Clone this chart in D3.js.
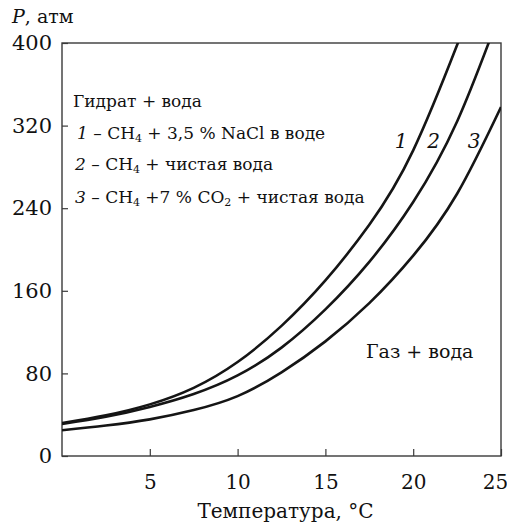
<!DOCTYPE html>
<html>
<head>
<meta charset="utf-8">
<script src="https://cdn.jsdelivr.net/npm/d3@7"></script>
<style>
  body { margin: 0; background: #fff; }
</style>
</head>
<body>
<div id="chart"></div>
<script>
// curves: temperature (°C) and pressure (atm)
const curve1T = [0, 2.5, 5, 7.5, 10, 12.5, 15, 17.5, 20, 22.5, 23];
const curve1P = [32, 39.5, 50, 66, 91, 126, 170, 224, 296, 398, 420];
const curve2T = [0, 2.5, 5, 7.5, 10, 12.5, 15, 17.5, 20, 22.5, 25];
const curve2P = [31, 38, 47.5, 60, 78, 105, 142, 188, 246, 324, 432];
const curve3T = [0, 2.5, 5, 7.5, 10, 12.5, 15, 17.5, 20, 22.5, 25];
const curve3P = [25, 29.5, 35.5, 44.5, 58, 81, 111, 148, 194, 254, 338];
const curveNames = ["1", "2", "3"];
const xTicks = [5, 10, 15, 20, 25];
const yTicks = [0, 80, 160, 240, 320, 400];

const margin = {top: 43, right: 6, bottom: 66, left: 62};
const W = 507, H = 522;
const width = W - margin.left - margin.right;
const height = H - margin.top - margin.bottom;
const serif = "'DejaVu Serif', 'Noto Serif', 'Liberation Serif', 'Times New Roman', serif";

const svg = d3.select("#chart").append("svg")
    .attr("width", W)
    .attr("height", H)
    .style("font-family", serif);

const g = svg.append("g")
    .attr("transform", "translate(" + margin.left + "," + margin.top + ")");

const x = d3.scaleLinear().domain([0, 25]).range([0, width]);
const y = d3.scaleLinear().domain([0, 400]).range([height, 0]);

svg.append("defs").append("clipPath").attr("id", "plot")
  .append("rect").attr("width", width).attr("height", height);

// frame
g.append("rect")
    .attr("width", width)
    .attr("height", height)
    .attr("fill", "none")
    .attr("stroke", "#3a3a3a")
    .attr("stroke-width", 1.4);

// y axis
const yAxis = g.append("g")
    .call(d3.axisLeft(y).tickValues(yTicks).tickSizeInner(-6).tickSizeOuter(0).tickPadding(10))
    .attr("font-family", null);
yAxis.select(".domain").remove();
yAxis.selectAll("line").attr("stroke", "#3a3a3a").attr("stroke-width", 1.2);
yAxis.selectAll("text")
    .style("font-family", serif)
    .attr("font-size", 21)
    .attr("fill", "#111");

// x axis
const xAxis = g.append("g")
    .attr("transform", "translate(0," + height + ")")
    .call(d3.axisBottom(x).tickValues(xTicks).tickSizeInner(-7).tickSizeOuter(0).tickPadding(19))
    .attr("font-family", null);
xAxis.select(".domain").remove();
xAxis.selectAll("line").attr("stroke", "#3a3a3a").attr("stroke-width", 1.2);
xAxis.selectAll("text")
    .style("font-family", serif)
    .attr("font-size", 20)
    .attr("fill", "#111")
    .attr("dx", (d) => d === 25 ? -6 : 0);

// curves
const curves = [
    d3.zip(curve1T, curve1P),
    d3.zip(curve2T, curve2P),
    d3.zip(curve3T, curve3P)
];
const line = d3.line()
    .x((d) => x(d[0]))
    .y((d) => y(d[1]))
    .curve(d3.curveNatural);

g.append("g").attr("clip-path", "url(#plot)")
  .selectAll("path")
  .data(curves)
  .enter().append("path")
    .attr("d", line)
    .attr("fill", "none")
    .attr("stroke", "#151515")
    .attr("stroke-width", 2.6);

// curve numbers
const labelT = [18.95, 20.8, 23.1];
g.selectAll(".cnum")
  .data(curveNames)
  .enter().append("text")
    .attr("class", "cnum")
    .attr("x", (d, i) => x(labelT[i]))
    .attr("y", y(298))
    .attr("font-size", 20)
    .attr("font-style", "italic")
    .attr("fill", "#111")
    .text((d) => d);

// axis titles
const yTitle = svg.append("text")
    .attr("x", 12)
    .attr("y", 23)
    .attr("font-size", 19)
    .attr("fill", "#111");
yTitle.append("tspan").attr("font-style", "italic").text("P");
yTitle.append("tspan").text(", атм");

svg.append("text")
    .attr("x", margin.left + width / 2 + 4)
    .attr("y", 518)
    .attr("text-anchor", "middle")
    .attr("font-size", 20)
    .attr("fill", "#111")
    .text("Температура, °C");

// region notes and legend
const fs = 17;
function sub(t, s) {
    t.append("tspan").attr("baseline-shift", "-30%").attr("font-size", 11).text(s);
}

g.append("text").attr("x", 11).attr("y", 64).attr("font-size", fs).attr("fill", "#111")
    .text("Гидрат + вода");

let t = g.append("text").attr("x", 15).attr("y", 96).attr("font-size", fs).attr("fill", "#111");
t.append("tspan").attr("font-style", "italic").text("1");
t.append("tspan").text(" – CH");
sub(t, "4");
t.append("tspan").text(" + 3,5 % NaCl в воде");

t = g.append("text").attr("x", 13).attr("y", 127).attr("font-size", fs).attr("fill", "#111");
t.append("tspan").attr("font-style", "italic").text("2");
t.append("tspan").text(" – CH");
sub(t, "4");
t.append("tspan").text(" + чистая вода");

t = g.append("text").attr("x", 13).attr("y", 160).attr("font-size", fs).attr("fill", "#111");
t.append("tspan").attr("font-style", "italic").text("3");
t.append("tspan").text(" – CH");
sub(t, "4");
t.append("tspan").text(" +7 % CO");
sub(t, "2");
t.append("tspan").text(" + чистая вода");

g.append("text").attr("x", 304).attr("y", 315).attr("font-size", 19).attr("fill", "#111")
    .text("Газ + вода");
</script>
</body>
</html>
